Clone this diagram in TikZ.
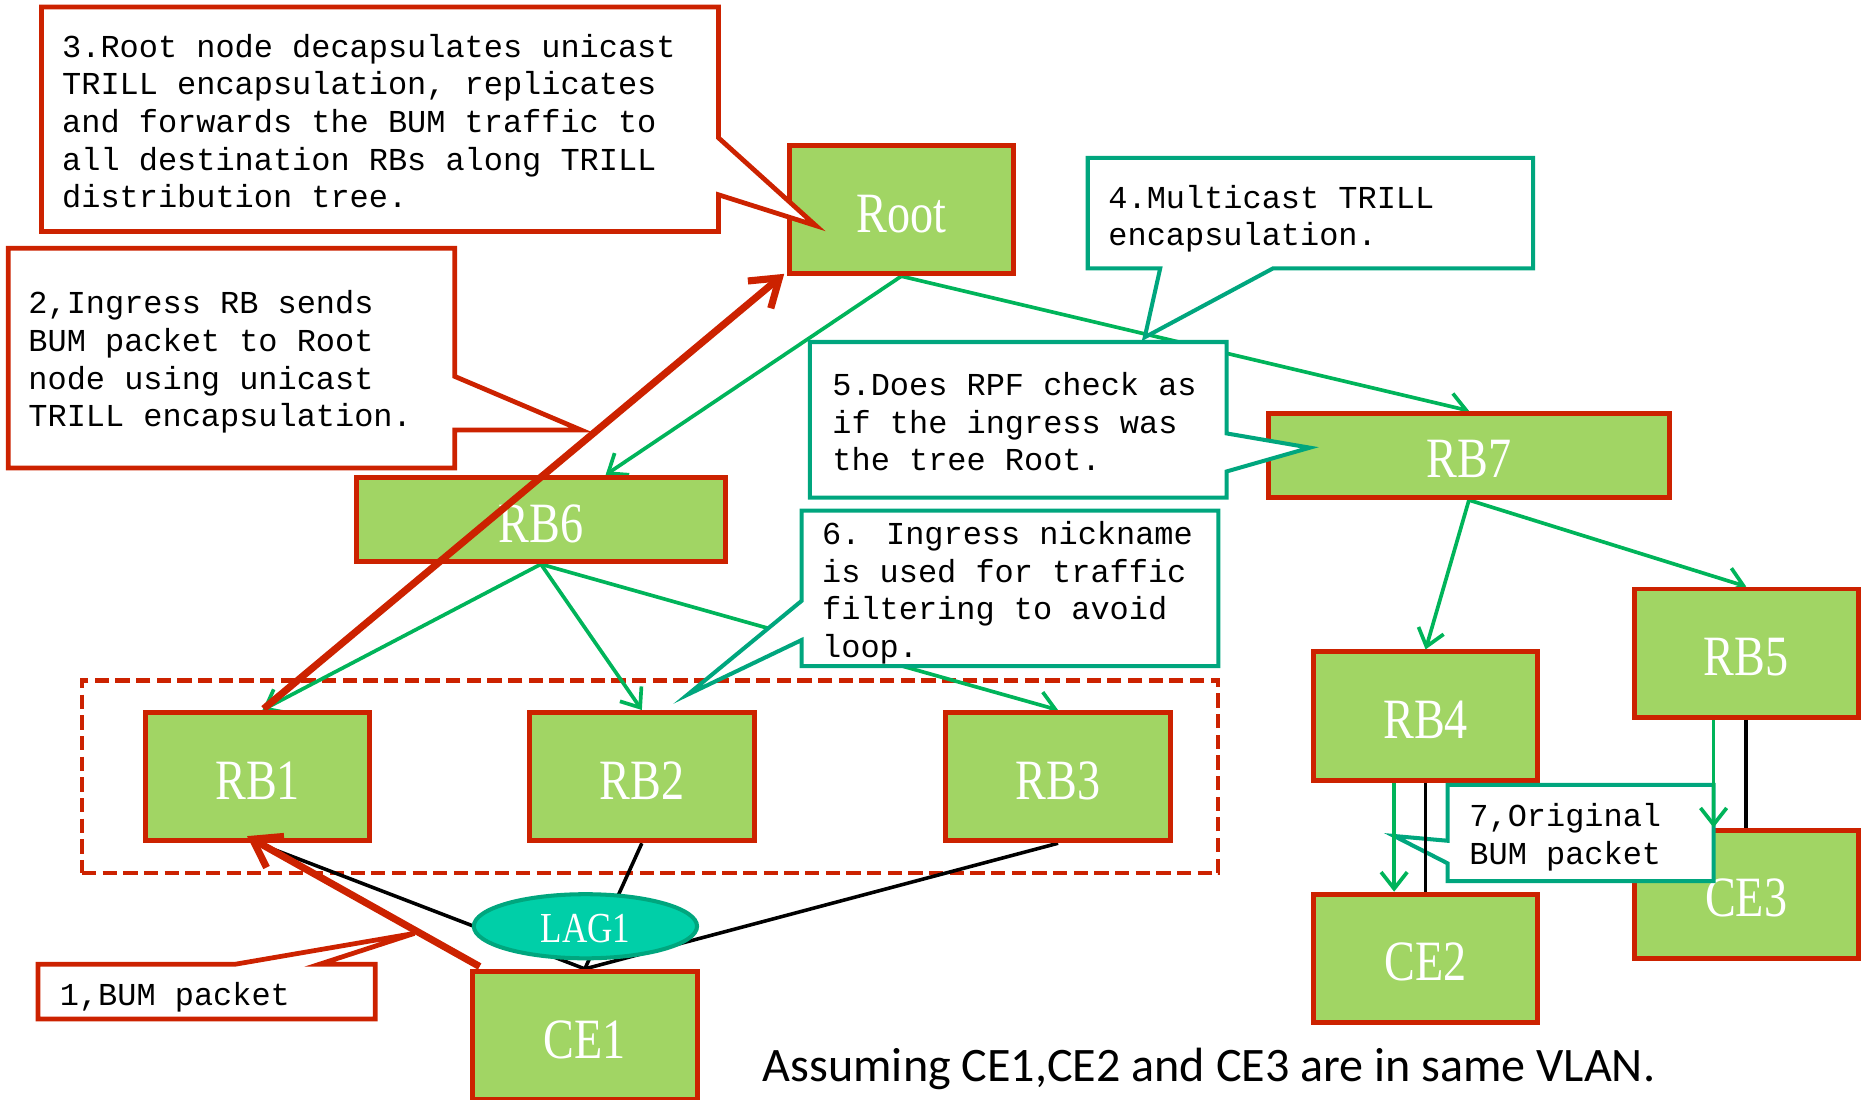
\documentclass[tikz,border=0pt]{standalone}
\usepackage{fontspec}
\setmainfont{Liberation Serif}
\newfontfamily\monof{Liberation Mono}
\newfontfamily\sansf{Carlito}
\usetikzlibrary{arrows.meta,calc,shapes.geometric,backgrounds}
\definecolor{boxgreen}{RGB}{161,213,100}
\definecolor{boxred}{RGB}{204,34,0}
\definecolor{tealb}{RGB}{0,166,126}
\definecolor{lagfill}{RGB}{0,207,168}
\definecolor{arrowgreen}{RGB}{0,180,90}
\newcommand{\boxlbl}[1]{\raisebox{-1.6pt}[\height][0pt]{\scalebox{0.81}[1]{#1}}}
\begin{document}
\begin{tikzpicture}[x=0.5pt,y=-0.5pt,
  rb/.style={draw=boxred, fill=boxgreen, line width=2.1pt, inner sep=0pt,
    minimum width=94.5pt, minimum height=54pt, text=white,
    font=\fontsize{24}{28}\selectfont},
  wide/.style={minimum width=#1, minimum height=35.5pt},
  callred/.style={draw=boxred, fill=white, line width=2pt, line join=miter},
  callteal/.style={draw=tealb, fill=white, line width=1.7pt, line join=miter},
  ctext/.style={font=\monof\fontsize{13.45}{15.85}\selectfont, align=left,
    inner sep=0pt, anchor=north west},
  garrow/.style={draw=arrowgreen, line width=1.55pt, -{Straight Barb[length=7pt,width=11pt]}},
  rarrow/.style={draw=boxred, line width=3pt, -{Straight Barb[length=11pt,width=15pt]}},
  bline/.style={draw=black, line width=1.5pt}]
\useasboundingbox (0,0) rectangle (1568,925.5);

% boxes
\node (Root) [rb] at (759,176.5) {\boxlbl{Root}};
\node (RB6) [rb, wide=155.5pt] at (455.5,437.5) {\boxlbl{RB6}};
\node (RB7) [rb, wide=169pt] at (1237,383.5) {\boxlbl{RB7}};
\node (RB1) [rb] at (217,654) {\boxlbl{RB1}};
\node (RB2) [rb] at (540.5,654) {\boxlbl{RB2}};
\node (RB3) [rb] at (891,654) {\boxlbl{RB3}};
\node (RB4) [rb] at (1200.5,603) {\boxlbl{RB4}};
\node (RB5) [rb] at (1470.5,550) {\boxlbl{RB5}};
\node (CE2) [rb] at (1200.5,807) {\boxlbl{CE2}};
\node (CE3) [rb] at (1470.5,753) {\boxlbl{CE3}};
\node (CE1) [rb] at (492.5,872) {\boxlbl{CE1}};

% dashed group and connectors behind the boxes
\begin{pgfonlayer}{background}
\node (grp) [draw=boxred, line width=1.75pt, dash pattern=on 6pt off 2.7pt,
  minimum width=478.5pt, minimum height=81pt, inner sep=0pt] at (547.5,654) {};
\draw[garrow] (Root.south) -- ($(RB6.north)+(54.5,0)$);
\draw[garrow] (Root.south) -- (RB7.north);
\draw[garrow] (RB6.south) -- ($(RB1.north)+(4,0)$);
\draw[garrow] (RB6.south) -- (RB2.north);
\draw[garrow] (RB6.south) -- (RB3.north);
\draw[garrow] (RB7.south) -- (RB4.north);
\draw[garrow] (RB7.south) -- (RB5.north);
\draw[bline] (RB1.south) -- (CE1.north);
\draw[bline] (RB2.south) -- (CE1.north);
\draw[bline] (RB3.south) -- (CE1.north);
\end{pgfonlayer}

\node (lag) [ellipse, draw=tealb, fill=lagfill, line width=1.7pt, inner sep=0pt,
  minimum width=94pt, minimum height=27pt, text=white,
  font=\fontsize{18}{20}\selectfont] at (493,780) {\raisebox{-1pt}[\height][0pt]{\scalebox{0.82}[1]{LAG1}}};

% red arrows
\draw[rarrow] ($(CE1.north west)+(8,-2)$) -- ($(RB1.south)+(-9,-6)$);
\draw[rarrow] ($(RB1.north)+(5,-1)$) -- ($(Root.south west)+(-2,-2)$);

% callouts
\draw[callred] (35,6) -- (605,6) -- (605,116) -- (687,190) -- (605,164) -- (605,195) -- (35,195) -- cycle;
\node (t3) [ctext] at (52,27.7) {\rule{0pt}{10pt}3.Root node decapsulates unicast\\TRILL encapsulation, replicates\\and forwards the BUM traffic to\\all destination RBs along TRILL\\distribution tree.};

\draw[callred] (7,209) -- (383,209) -- (383,317) -- (489,362) -- (383,362) -- (383,394) -- (7,394) -- cycle;
\node (t2) [ctext] at (23.6,244) {\rule{0pt}{10pt}2,Ingress RB sends\\BUM packet to Root\\node using unicast\\TRILL encapsulation.};

\draw[callteal] (916,133) -- (1291,133) -- (1291,226) -- (1072,226) -- (964,284) -- (977,226) -- (916,226) -- cycle;
\node (t4) [ctext] at (933,155) {\rule{0pt}{10pt}4.Multicast TRILL\\encapsulation.};

\draw[callteal] (682,288) -- (1033,288) -- (1033,365) -- (1103,377) -- (1033,397) -- (1033,419) -- (682,419) -- cycle;
\node (t5) [ctext] at (700.6,312.6) {\rule{0pt}{10pt}5.Does RPF check as\\if the ingress was\\the tree Root.};

\draw[callteal] (675,430) -- (1026,430) -- (1026,561) -- (675,561) -- (675,539) -- (579,585) -- (675,506) -- cycle;
\node (t6) [ctext] at (692,438) {\rule{0pt}{10pt}6. Ingress nickname\\is used for traffic\\filtering to avoid\\loop.};

\draw[callred] (32,812) -- (198,812) -- (349,786) -- (269,812) -- (316,812) -- (316,858) -- (32,858) -- cycle;
\node (t1) [ctext] at (50,826) {\rule{0pt}{10pt}1,BUM packet};

\draw[callteal] (1219,661) -- (1443,661) -- (1443,742) -- (1219,742) -- (1219,727) -- (1174,704) -- (1219,708) -- cycle;
\node (t7) [ctext] at (1237,676) {\rule{0pt}{10pt}7,Original\\BUM packet};

% CE links on the right
\draw[garrow] ($(RB4.south)+(-26.5,0)$) -- ($(CE2.north)+(-26.5,0)$);
\draw[bline] (RB4.south) -- (CE2.north);
\draw[garrow] ($(RB5.south)+(-27.5,0)$) -- ($(CE3.north)+(-27.5,0)$);
\draw[bline] (RB5.south) -- (CE3.north);

\node (note) [anchor=base west, inner sep=0pt, font=\sansf\fontsize{20.25}{24}\selectfont]
  at (642,911) {Assuming CE1,CE2 and CE3 are in same VLAN.};
\end{tikzpicture}
\end{document}
